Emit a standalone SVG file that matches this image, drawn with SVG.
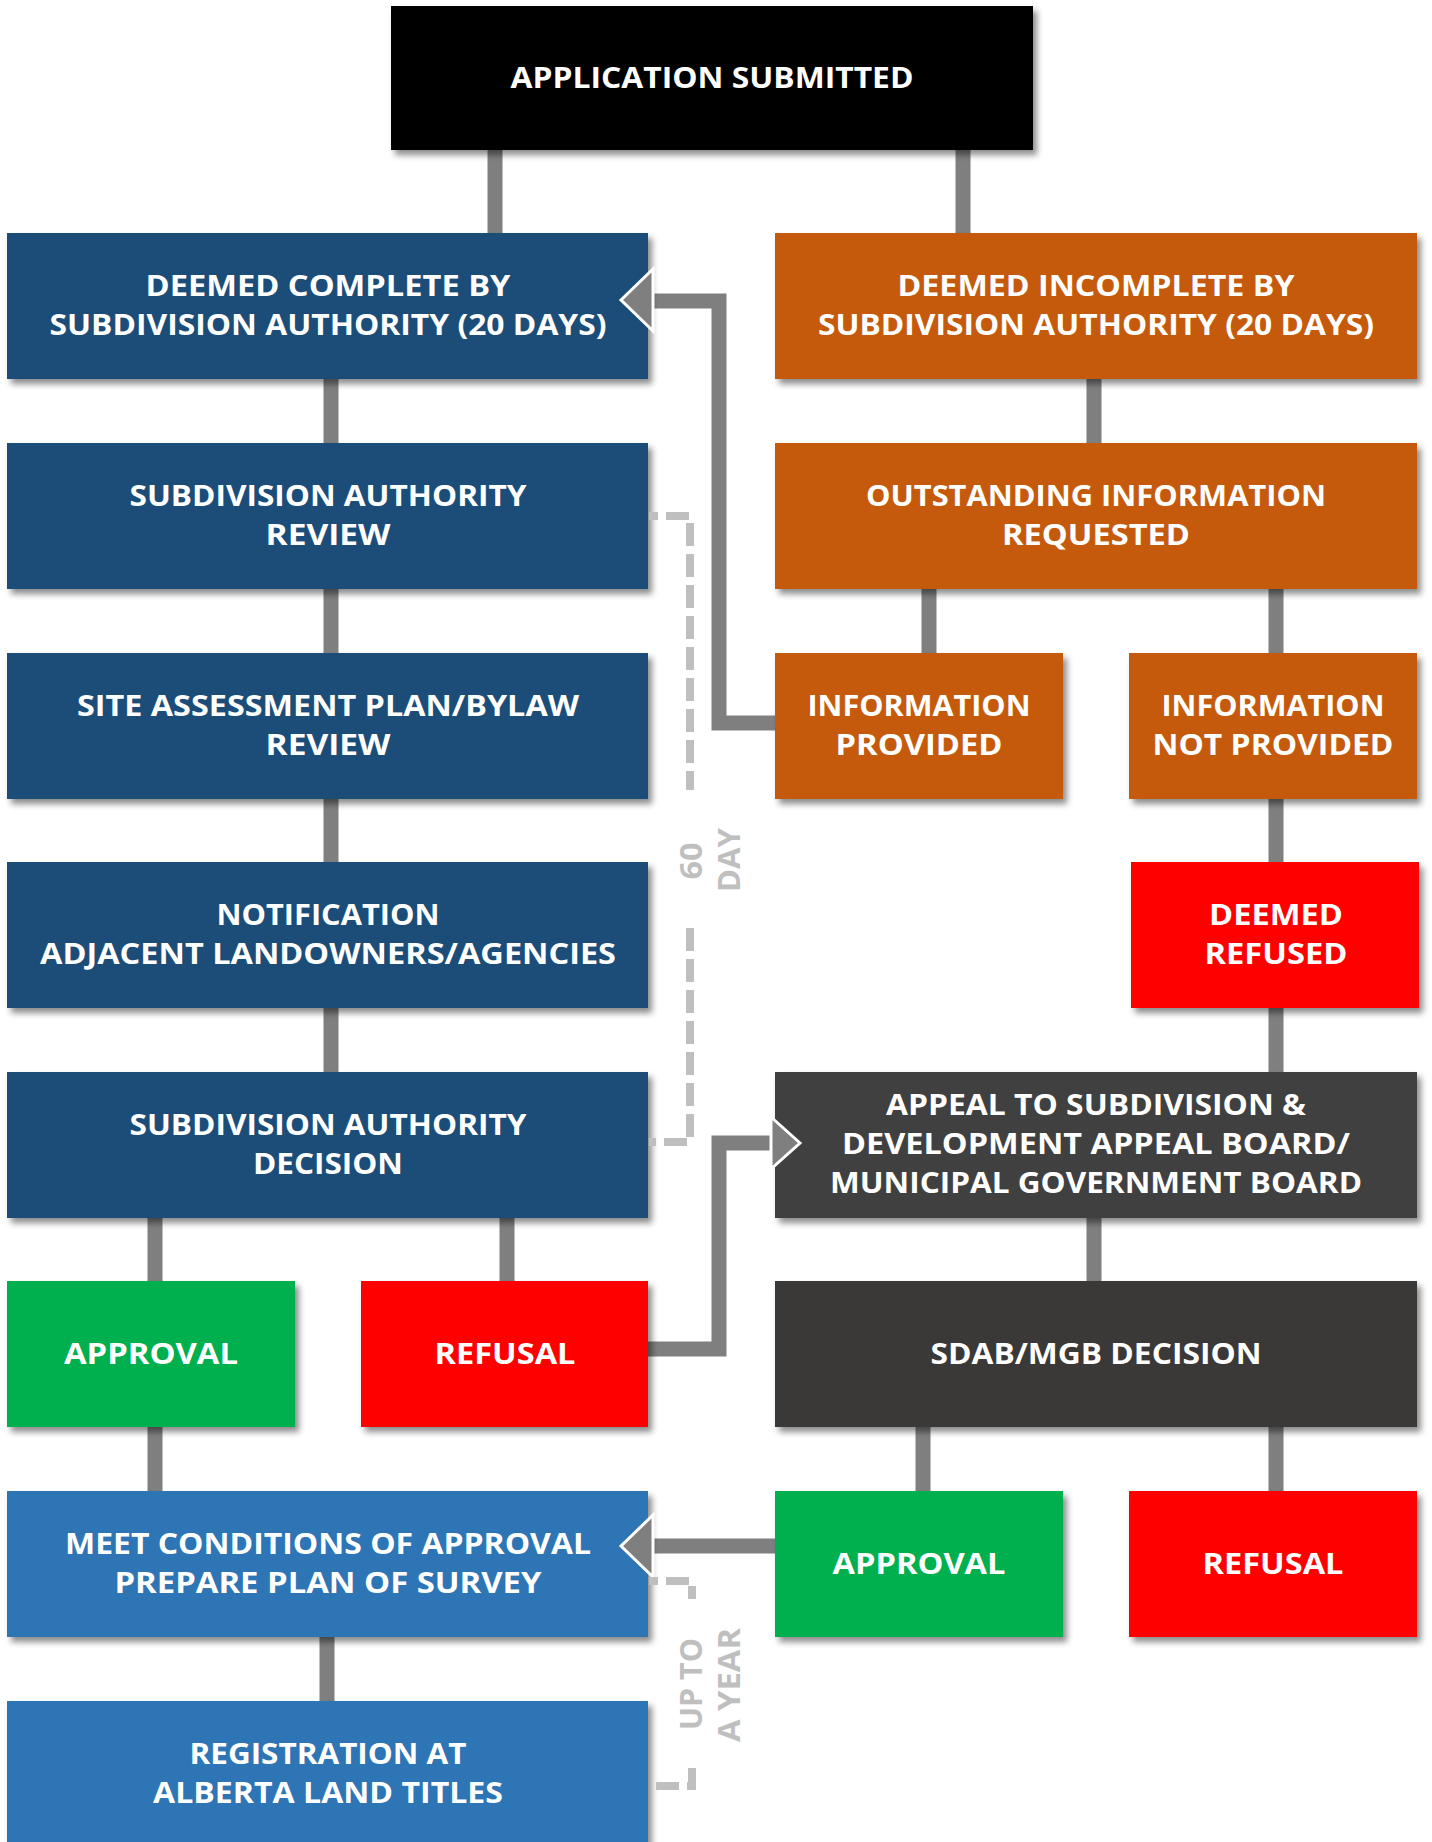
<svg xmlns="http://www.w3.org/2000/svg" width="1432" height="1842" viewBox="0 0 1432 1842">
<defs>
<filter id="sh" x="-5%" y="-10%" width="115%" height="130%">
<feDropShadow dx="4" dy="5" stdDeviation="3" flood-color="#000" flood-opacity="0.45"/>
</filter>
</defs>
<style>
.t{font-family:"Open Sans","Liberation Sans",sans-serif;font-weight:700;font-size:28px;fill:#fff;text-anchor:middle}
.n rect{filter:url(#sh)}
.c{stroke:#7f7f7f;stroke-width:15;fill:none}
.d{stroke:#bfbfbf;stroke-width:8;fill:none;stroke-dasharray:23 8}
.a{fill:#7f7f7f;stroke:#fff;stroke-width:3}
.l{font-family:"Open Sans","Liberation Sans",sans-serif;font-weight:700;font-size:30px;fill:#bfbfbf;text-anchor:middle}
</style>
<rect width="1432" height="1842" fill="#fff"/>
<g id="connectors">
<path class="c" d="M495 150V233M963 150V233M331 378V443M331 589V653M331 799V862M331 1008V1072M155 1217V1281M507 1217V1281M155 1426V1491M327 1636V1701"/>
<path class="c" d="M1094 378V443M929 589V653M1276 589V653M1276 799V862M1276 1008V1072M1094 1217V1281M923 1426V1491M1276 1426V1491"/>
<path class="c" d="M775 723H719V301H650"/>
<path class="c" d="M648 1349H719V1143H772"/>
<path class="c" d="M775 1546H650"/>
</g>
<g id="n0" class="n"><rect x="391" y="6" width="642" height="144" fill="#000"/><text class="t" x="712" y="88" textLength="403" lengthAdjust="spacingAndGlyphs">APPLICATION SUBMITTED</text></g>
<g id="n1" class="n"><rect x="7" y="233" width="641" height="146" fill="#1f4e79"/><text class="t" x="328" y="296" textLength="365" lengthAdjust="spacingAndGlyphs">DEEMED COMPLETE BY</text><text class="t" x="328" y="335" textLength="557" lengthAdjust="spacingAndGlyphs">SUBDIVISION AUTHORITY (20 DAYS)</text></g>
<g id="n2" class="n"><rect x="775" y="233" width="642" height="146" fill="#c55a11"/><text class="t" x="1096" y="296" textLength="397" lengthAdjust="spacingAndGlyphs">DEEMED INCOMPLETE BY</text><text class="t" x="1096" y="335" textLength="556" lengthAdjust="spacingAndGlyphs">SUBDIVISION AUTHORITY (20 DAYS)</text></g>
<g id="n3" class="n"><rect x="7" y="443" width="641" height="146" fill="#1f4e79"/><text class="t" x="328" y="506" textLength="397" lengthAdjust="spacingAndGlyphs">SUBDIVISION AUTHORITY</text><text class="t" x="328" y="545" textLength="125" lengthAdjust="spacingAndGlyphs">REVIEW</text></g>
<g id="n4" class="n"><rect x="775" y="443" width="642" height="146" fill="#c55a11"/><text class="t" x="1096" y="506" textLength="460" lengthAdjust="spacingAndGlyphs">OUTSTANDING INFORMATION</text><text class="t" x="1096" y="545" textLength="188" lengthAdjust="spacingAndGlyphs">REQUESTED</text></g>
<g id="n5" class="n"><rect x="7" y="653" width="641" height="146" fill="#1f4e79"/><text class="t" x="328" y="716" textLength="502" lengthAdjust="spacingAndGlyphs">SITE ASSESSMENT PLAN/BYLAW</text><text class="t" x="328" y="755" textLength="125" lengthAdjust="spacingAndGlyphs">REVIEW</text></g>
<g id="n6" class="n"><rect x="775" y="653" width="288" height="146" fill="#c55a11"/><text class="t" x="919" y="716" textLength="223" lengthAdjust="spacingAndGlyphs">INFORMATION</text><text class="t" x="919" y="755" textLength="167" lengthAdjust="spacingAndGlyphs">PROVIDED</text></g>
<g id="n7" class="n"><rect x="1129" y="653" width="288" height="146" fill="#c55a11"/><text class="t" x="1273" y="716" textLength="223" lengthAdjust="spacingAndGlyphs">INFORMATION</text><text class="t" x="1273" y="755" textLength="241" lengthAdjust="spacingAndGlyphs">NOT PROVIDED</text></g>
<g id="n8" class="n"><rect x="7" y="862" width="641" height="146" fill="#1f4e79"/><text class="t" x="328" y="925" textLength="223" lengthAdjust="spacingAndGlyphs">NOTIFICATION</text><text class="t" x="328" y="964" textLength="576" lengthAdjust="spacingAndGlyphs">ADJACENT LANDOWNERS/AGENCIES</text></g>
<g id="n9" class="n"><rect x="1131" y="862" width="288" height="146" fill="#ff0000"/><text class="t" x="1276" y="925" textLength="134" lengthAdjust="spacingAndGlyphs">DEEMED</text><text class="t" x="1276" y="964" textLength="143" lengthAdjust="spacingAndGlyphs">REFUSED</text></g>
<g id="n10" class="n"><rect x="7" y="1072" width="641" height="146" fill="#1f4e79"/><text class="t" x="328" y="1135" textLength="397" lengthAdjust="spacingAndGlyphs">SUBDIVISION AUTHORITY</text><text class="t" x="328" y="1174" textLength="150" lengthAdjust="spacingAndGlyphs">DECISION</text></g>
<g id="n11" class="n"><rect x="775" y="1072" width="642" height="146" fill="#3f3f3f"/><text class="t" x="1096" y="1115" textLength="420" lengthAdjust="spacingAndGlyphs">APPEAL TO SUBDIVISION &amp;</text><text class="t" x="1096" y="1154" textLength="508" lengthAdjust="spacingAndGlyphs">DEVELOPMENT APPEAL BOARD/</text><text class="t" x="1096" y="1193" textLength="532" lengthAdjust="spacingAndGlyphs">MUNICIPAL GOVERNMENT BOARD</text></g>
<g id="n12" class="n"><rect x="7" y="1281" width="288" height="146" fill="#00b050"/><text class="t" x="151" y="1364" textLength="174" lengthAdjust="spacingAndGlyphs">APPROVAL</text></g>
<g id="n13" class="n"><rect x="361" y="1281" width="287" height="146" fill="#ff0000"/><text class="t" x="505" y="1364" textLength="141" lengthAdjust="spacingAndGlyphs">REFUSAL</text></g>
<g id="n14" class="n"><rect x="775" y="1281" width="642" height="146" fill="#3a3838"/><text class="t" x="1096" y="1364" textLength="331" lengthAdjust="spacingAndGlyphs">SDAB/MGB DECISION</text></g>
<g id="n15" class="n"><rect x="7" y="1491" width="641" height="146" fill="#2e75b6"/><text class="t" x="328" y="1554" textLength="526" lengthAdjust="spacingAndGlyphs">MEET CONDITIONS OF APPROVAL</text><text class="t" x="328" y="1593" textLength="427" lengthAdjust="spacingAndGlyphs">PREPARE PLAN OF SURVEY</text></g>
<g id="n16" class="n"><rect x="775" y="1491" width="288" height="146" fill="#00b050"/><text class="t" x="919" y="1574" textLength="173" lengthAdjust="spacingAndGlyphs">APPROVAL</text></g>
<g id="n17" class="n"><rect x="1129" y="1491" width="288" height="146" fill="#ff0000"/><text class="t" x="1273" y="1574" textLength="141" lengthAdjust="spacingAndGlyphs">REFUSAL</text></g>
<g id="n18" class="n"><rect x="7" y="1701" width="641" height="150" fill="#2e75b6"/><text class="t" x="328" y="1764" textLength="277" lengthAdjust="spacingAndGlyphs">REGISTRATION AT</text><text class="t" x="328" y="1803" textLength="350" lengthAdjust="spacingAndGlyphs">ALBERTA LAND TITLES</text></g>
<g id="arrows">
<polygon class="a" points="621,300 653,269 653,331"/>
<polygon class="a" points="800,1143 771,1117 771,1169"/>
<polygon class="a" points="621,1546 653,1515 653,1577"/>
</g>
<g id="brackets">
<path class="d" d="M649 516H690V790" stroke-dashoffset="14"/>
<path class="d" d="M690 928V1142H649"/>
<path class="d" d="M649 1581H692V1599" stroke-dashoffset="14"/>
<path class="d" d="M692 1768V1786H649"/>
<text class="l" transform="translate(702,861) rotate(-90)" textLength="37" lengthAdjust="spacingAndGlyphs">60</text>
<text class="l" transform="translate(740,860) rotate(-90)" textLength="64" lengthAdjust="spacingAndGlyphs">DAY</text>
<text class="l" transform="translate(702,1684) rotate(-90)" textLength="92" lengthAdjust="spacingAndGlyphs">UP TO</text>
<text class="l" transform="translate(740,1685) rotate(-90)" textLength="114" lengthAdjust="spacingAndGlyphs">A YEAR</text>
</g>
</svg>
